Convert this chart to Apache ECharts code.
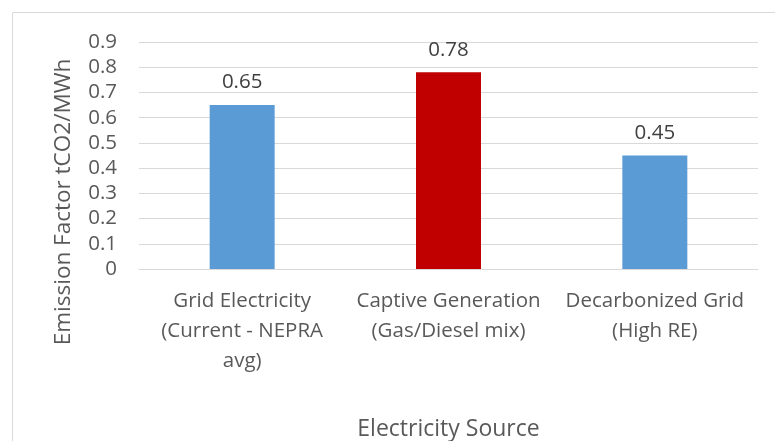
<!DOCTYPE html>
<html>
<head>
<meta charset="utf-8">
<script src="https://cdn.jsdelivr.net/npm/echarts@6/dist/echarts.min.js"></script>
<style>
  html, body { margin: 0; padding: 0; background: #fff; }
  #chart { width: 775px; height: 441px; }
</style>
</head>
<body>
<div id="chart"></div>
<script>
const categories = [
  'Grid Electricity\n(Current - NEPRA\navg)',
  'Captive Generation\n(Gas/Diesel mix)',
  'Decarbonized Grid\n(High RE)'
]
const values = [0.65, 0.78, 0.45]
const barColors = ['#5B9BD5', '#C00000', '#5B9BD5']

const textColor = '#595959'
const font = 'Open Sans'

const chart = echarts.init(document.getElementById('chart'))

chart.setOption({
  backgroundColor: '#fff',
  animation: false,
  textStyle: { fontFamily: font },
  graphic: [
    {
      // chart-area frame, right and bottom edges fall outside the crop
      type: 'rect',
      shape: { x: 12.5, y: 12.5, width: 800, height: 500 },
      style: { fill: 'none', stroke: '#D9D9D9', lineWidth: 1 },
      silent: true
    },
    {
      type: 'text',
      x: 64,
      y: 202,
      rotation: Math.PI / 2,
      style: {
        text: 'Emission Factor tCO2/MWh',
        fill: textColor,
        font: '22.5px "Open Sans"',
        align: 'center',
        verticalAlign: 'middle'
      }
    }
  ],
  grid: { left: 139, right: 17, top: 42, bottom: 172, containLabel: false, outerBoundsMode: 'none' },
  xAxis: {
    type: 'category',
    data: categories,
    name: 'Electricity Source',
    nameLocation: 'middle',
    nameGap: 149,
    nameTextStyle: { color: textColor, fontSize: 23, fontFamily: font },
    axisLine: { lineStyle: { color: '#D9D9D9' } },
    axisTick: { show: false },
    axisLabel: {
      color: textColor,
      fontSize: 20.5,
      lineHeight: 30,
      margin: 17,
      interval: 0
    }
  },
  yAxis: {
    type: 'value',
    min: 0,
    max: 0.9,
    interval: 0.1,
    axisLine: { show: false },
    axisTick: { show: false },
    splitLine: { lineStyle: { color: '#D9D9D9' } },
    axisLabel: {
      color: textColor,
      fontSize: 20.5,
      margin: 22,
      formatter: v => String(Math.round(v * 10) / 10)
    }
  },
  series: [{
    type: 'bar',
    barWidth: '31.5%',
    data: values.map((v, i) => ({ value: v, itemStyle: { color: barColors[i] } })),
    label: {
      show: true,
      position: 'top',
      distance: 12,
      color: '#404040',
      fontSize: 20.5,
      fontFamily: font
    }
  }]
})
</script>
</body>
</html>
